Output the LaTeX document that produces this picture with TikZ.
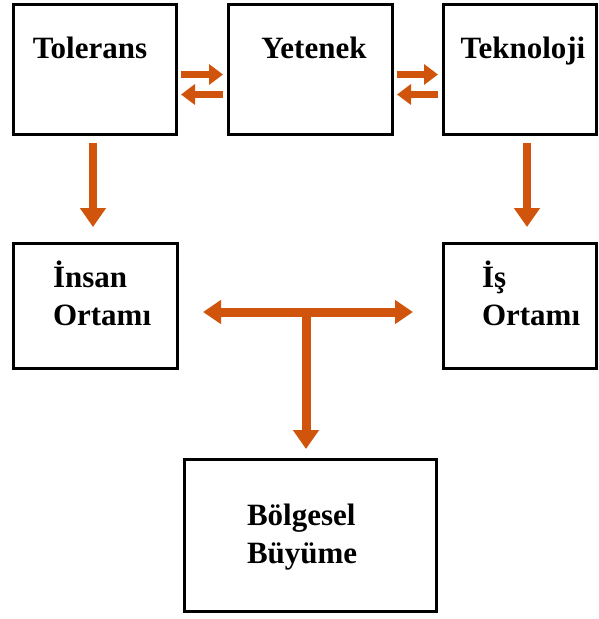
\documentclass[tikz,border=0pt]{standalone}
\usepackage{fontspec}
\setmainfont{Liberation Serif}
\usetikzlibrary{arrows.meta,calc}
\definecolor{arrorange}{RGB}{209,84,12}
\begin{document}
\begin{tikzpicture}[x=1pt,y=-1pt,
  box/.style={draw=black,line width=3pt,inner sep=0pt,outer sep=0pt,rectangle},
  txt/.style={font=\fontsize{31}{38}\selectfont\bfseries,inner sep=0pt,outer sep=0pt},
  smallarr/.style={draw=arrorange,line width=7pt,-{Triangle[width=20pt,length=14pt]}},
  bigarr/.style={draw=arrorange,line width=8pt,-{Triangle[width=25pt,length=19pt]}},
  tarr/.style={draw=arrorange,line width=9pt,{Triangle[width=23pt,length=18pt]}-{Triangle[width=23pt,length=18pt]}}
]
\useasboundingbox (0,0) rectangle (598,619);
% boxes
\node[box,minimum width=163pt,minimum height=130pt] (T) at (94.5,69) {};
\node[box,minimum width=164pt,minimum height=130pt] (Y) at (310,69) {};
\node[box,minimum width=153pt,minimum height=130pt] (K) at (519.5,69) {};
\node[box,minimum width=164pt,minimum height=125pt] (I) at (95,305.5) {};
\node[box,minimum width=153pt,minimum height=125pt] (S) at (519.5,305.5) {};
\node[box,minimum width=252pt,minimum height=152pt] (B) at (310,535) {};
% texts
\node[txt,anchor=base] (tT) at (90,58) {Tolerans};
\node[txt,anchor=base] (tY) at (314,58) {Yetenek};
\node[txt,anchor=base] (tK) at (523,58) {Teknoloji};
\node[txt,anchor=base west,align=left] (tI) at (53,325) {İnsan\\Ortamı};
\node[txt,anchor=base west,align=left] (tS) at (482,325) {İş\\Ortamı};
\node[txt,anchor=base west,align=left] (tB) at (247,563) {Bölgesel\\Büyüme};
% small arrows between top boxes
\draw[smallarr,shorten <=5pt,shorten >=5pt] ($(T.east)+(0,5.5)$) -- ($(Y.west)+(0,5.5)$);
\draw[smallarr,shorten <=5pt,shorten >=5pt] ($(Y.west)+(0,25.5)$) -- ($(T.east)+(0,25.5)$);
\draw[smallarr,shorten <=5pt,shorten >=5pt] ($(Y.east)+(0,5.5)$) -- ($(K.west)+(0,5.5)$);
\draw[smallarr,shorten <=5pt,shorten >=5pt] ($(K.west)+(0,25.5)$) -- ($(Y.east)+(0,25.5)$);
% vertical arrows
\coordinate (a1) at ($(T.south)+(-1.5,0)$);
\coordinate (a2) at ($(K.south)+(7.5,0)$);
\draw[bigarr,shorten <=9pt,shorten >=16pt] (a1) -- (a1 |- I.north);
\draw[bigarr,shorten <=9pt,shorten >=16pt] (a2) -- (a2 |- S.north);
% T connector
\draw[tarr,shorten <=26pt,shorten >=30pt] ($(I.east)+(0,6.5)$) -- ($(S.west)+(0,6.5)$);
\coordinate (m) at (306,312);
\draw[draw=arrorange,line width=9pt,-{Triangle[width=25pt,length=19pt]},shorten >=10pt] (m) -- (m |- B.north);
\end{tikzpicture}
\end{document}
